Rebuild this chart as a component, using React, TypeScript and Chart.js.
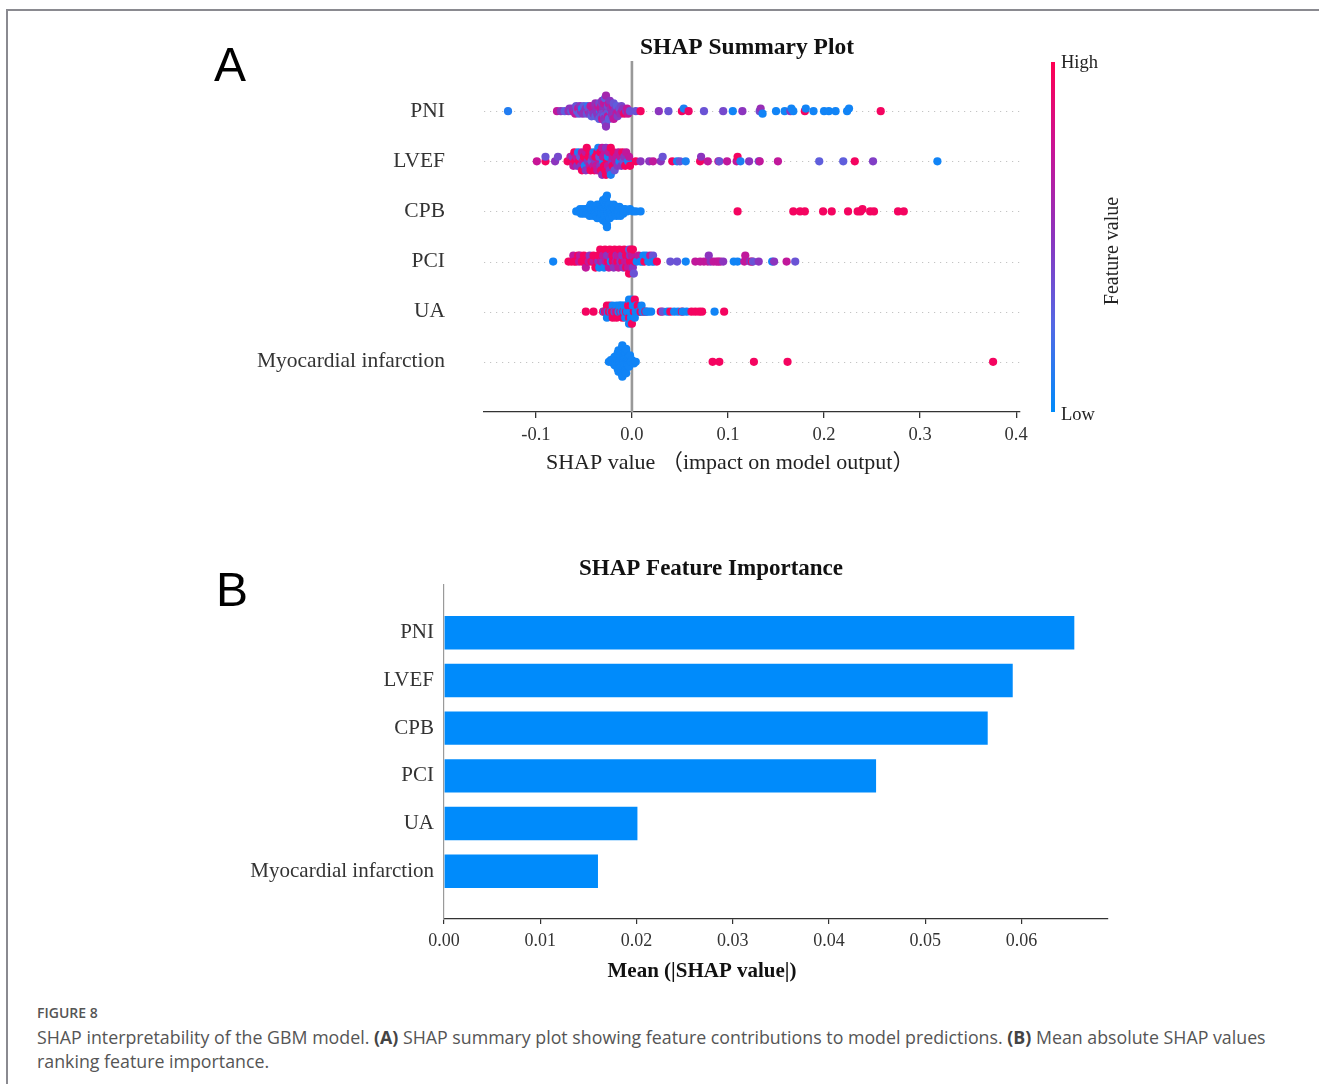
import React, { useEffect, useRef } from "react";
import { Chart, registerables } from "chart.js";

Chart.register(...registerables);

// Feature rows, top to bottom
const FEATURES = ["PNI", "LVEF", "CPB", "PCI", "UA", "Myocardial infarction"];

// Axis ticks
const SUMMARY_X_TICKS = [-0.1, 0, 0.1, 0.2, 0.3, 0.4];
const IMPORTANCE_X_TICKS = [0, 0.01, 0.02, 0.03, 0.04, 0.05, 0.06];

// Mean |SHAP| per feature (same order as FEATURES)
const MEAN_ABS_SHAP = [0.0655, 0.0591, 0.0565, 0.0449, 0.0201, 0.016];

// Per-sample points: [SHAP value, normalised feature value (0 = low, 1 = high)]
const PNI_POINTS: [number, number][] = [
  [-0.129, 0.1],
  [-0.078, 0.72], [-0.074, 0.5], [-0.07, 0.3], [-0.066, 0.55], [-0.065, 0.5], [-0.063, 0.3], [-0.062, 0.5],
  [-0.061, 0.72], [-0.06, 0.5], [-0.059, 0.72], [-0.058, 0.35], [-0.057, 0.3], [-0.056, 0.72], [-0.055, 0.3],
  [-0.054, 0.5], [-0.053, 0.55], [-0.052, 0.1], [-0.051, 0.5], [-0.05, 0.3], [-0.049, 0.55], [-0.048, 0.5],
  [-0.047, 0.35], [-0.046, 0.15], [-0.045, 0.72], [-0.045, 0.35], [-0.044, 0.5], [-0.043, 0.72], [-0.042, 0.3],
  [-0.041, 0.35], [-0.041, 0.72], [-0.04, 0.5], [-0.039, 0.65], [-0.038, 0.3], [-0.038, 0.55], [-0.037, 0.5],
  [-0.036, 0.55], [-0.036, 0.5], [-0.035, 0.72], [-0.035, 0.5], [-0.034, 0.4], [-0.034, 0.3], [-0.033, 0.15],
  [-0.033, 0.72], [-0.032, 0.5], [-0.032, 0.72], [-0.032, 0.35], [-0.031, 0.45], [-0.031, 0.75], [-0.031, 0.5],
  [-0.03, 0.35], [-0.03, 0.55], [-0.03, 0.4], [-0.029, 0.5], [-0.029, 0.3], [-0.029, 0.72], [-0.029, 0.55],
  [-0.028, 0.7], [-0.028, 0.5], [-0.028, 0.3], [-0.027, 0.35], [-0.027, 0.6], [-0.027, 0.5], [-0.026, 0.92],
  [-0.026, 0.5], [-0.026, 0.35], [-0.025, 0.4], [-0.025, 0.72], [-0.024, 0.72], [-0.024, 0.3], [-0.023, 0.5],
  [-0.022, 0.2], [-0.022, 0.55], [-0.021, 0.55], [-0.02, 0.75], [-0.02, 0.5], [-0.019, 0.35], [-0.019, 0.72],
  [-0.018, 0.5], [-0.017, 0.5], [-0.016, 0.7], [-0.016, 0.3], [-0.015, 0.45], [-0.014, 0.7], [-0.013, 0.35],
  [-0.012, 0.55], [-0.011, 0.4], [-0.01, 0.7], [-0.009, 0.5], [-0.008, 0.92], [-0.006, 0.5], [-0.005, 0.72],
  [-0.004, 0.75], [-0.002, 0.35],
  [0.004, 0.35], [0.009, 0.95], [0.028, 0.5], [0.038, 0.35], [0.052, 0.95], [0.054, 0.08], [0.059, 0.92],
  [0.075, 0.35], [0.095, 0.4], [0.105, 0.05], [0.115, 0.5], [0.133, 0.4], [0.134, 0.55], [0.136, 0.05],
  [0.15, 0.05], [0.159, 0.05], [0.165, 0.5], [0.166, 0.05], [0.168, 0.05], [0.18, 0.95], [0.181, 0.05],
  [0.189, 0.05], [0.2, 0.05], [0.205, 0.05], [0.212, 0.05], [0.224, 0.05], [0.226, 0.05], [0.259, 0.95],
];

const LVEF_POINTS: [number, number][] = [
  [-0.099, 0.75], [-0.09, 0.95], [-0.09, 0.35], [-0.08, 0.5], [-0.077, 0.4],
  [-0.067, 0.95], [-0.064, 0.72], [-0.063, 0.95], [-0.062, 0.5], [-0.061, 0.72], [-0.06, 0.95], [-0.059, 0.95],
  [-0.058, 0.72], [-0.057, 0.5], [-0.056, 0.08], [-0.055, 0.95], [-0.054, 0.35], [-0.053, 0.5], [-0.052, 0.72],
  [-0.052, 0.95], [-0.051, 0.72], [-0.05, 0.95], [-0.049, 0.08], [-0.048, 0.72], [-0.048, 0.5], [-0.047, 0.95],
  [-0.046, 0.5], [-0.045, 0.95], [-0.044, 0.72], [-0.044, 0.95], [-0.043, 0.95], [-0.042, 0.35], [-0.041, 0.5],
  [-0.04, 0.72], [-0.04, 0.08], [-0.039, 0.95], [-0.038, 0.5], [-0.038, 0.95], [-0.037, 0.72], [-0.036, 0.95],
  [-0.036, 0.72], [-0.035, 0.08], [-0.034, 0.72], [-0.034, 0.35], [-0.033, 0.5], [-0.033, 0.95], [-0.032, 0.95],
  [-0.031, 0.72], [-0.031, 0.5], [-0.03, 0.08], [-0.03, 0.72], [-0.029, 0.95], [-0.028, 0.72], [-0.028, 0.95],
  [-0.027, 0.5], [-0.027, 0.95], [-0.026, 0.95], [-0.025, 0.08], [-0.025, 0.72], [-0.024, 0.72], [-0.023, 0.5],
  [-0.022, 0.95], [-0.022, 0.08], [-0.021, 0.5], [-0.02, 0.72], [-0.02, 0.95], [-0.019, 0.95], [-0.018, 0.35],
  [-0.017, 0.72], [-0.016, 0.72], [-0.015, 0.5], [-0.014, 0.72], [-0.013, 0.08], [-0.012, 0.72], [-0.011, 0.5],
  [-0.01, 0.95], [-0.009, 0.35], [-0.008, 0.5], [-0.007, 0.95], [-0.006, 0.72], [-0.004, 0.08], [-0.003, 0.72],
  [-0.002, 0.95],
  [0.004, 0.95], [0.009, 0.5], [0.018, 0.5], [0.022, 0.72], [0.03, 0.5], [0.032, 0.35], [0.042, 0.95],
  [0.047, 0.08], [0.05, 0.35], [0.056, 0.08], [0.071, 0.95], [0.072, 0.5], [0.079, 0.72], [0.09, 0.72],
  [0.091, 0.35], [0.099, 0.72], [0.109, 0.72], [0.11, 0.95], [0.113, 0.08], [0.122, 0.5], [0.132, 0.35],
  [0.133, 0.72], [0.152, 0.72], [0.195, 0.3], [0.22, 0.3], [0.232, 0.95], [0.251, 0.45], [0.318, 0.05],
];

const CPB_POINTS: [number, number][] = [
  [-0.058, 0.05], [-0.056, 0.05], [-0.054, 0.05], [-0.053, 0.05], [-0.052, 0.05], [-0.051, 0.05], [-0.05, 0.05],
  [-0.049, 0.05], [-0.048, 0.05], [-0.047, 0.05], [-0.046, 0.05], [-0.046, 0.05], [-0.045, 0.05], [-0.044, 0.05],
  [-0.044, 0.05], [-0.043, 0.05], [-0.042, 0.05], [-0.042, 0.05], [-0.041, 0.05], [-0.04, 0.05], [-0.04, 0.05],
  [-0.039, 0.05], [-0.038, 0.05], [-0.038, 0.05], [-0.037, 0.05], [-0.037, 0.05], [-0.036, 0.05], [-0.036, 0.05],
  [-0.035, 0.05], [-0.035, 0.05], [-0.034, 0.05], [-0.034, 0.05], [-0.033, 0.05], [-0.033, 0.05], [-0.033, 0.05],
  [-0.032, 0.05], [-0.032, 0.05], [-0.032, 0.05], [-0.031, 0.05], [-0.031, 0.05], [-0.031, 0.05], [-0.03, 0.05],
  [-0.03, 0.05], [-0.03, 0.05], [-0.03, 0.05], [-0.029, 0.05], [-0.029, 0.05], [-0.029, 0.05], [-0.029, 0.05],
  [-0.028, 0.05], [-0.028, 0.05], [-0.028, 0.05], [-0.028, 0.05], [-0.027, 0.05], [-0.027, 0.05], [-0.027, 0.05],
  [-0.027, 0.05], [-0.026, 0.05], [-0.026, 0.05], [-0.026, 0.05], [-0.025, 0.05], [-0.025, 0.05], [-0.025, 0.05],
  [-0.024, 0.05], [-0.024, 0.05], [-0.023, 0.05], [-0.023, 0.05], [-0.022, 0.05], [-0.022, 0.05], [-0.021, 0.05],
  [-0.02, 0.05], [-0.02, 0.05], [-0.019, 0.05], [-0.018, 0.05], [-0.018, 0.05], [-0.017, 0.05], [-0.016, 0.05],
  [-0.016, 0.05], [-0.015, 0.05], [-0.014, 0.05], [-0.014, 0.05], [-0.013, 0.05], [-0.012, 0.05], [-0.011, 0.05],
  [-0.01, 0.05], [-0.009, 0.05], [-0.008, 0.05], [-0.007, 0.05], [-0.005, 0.05], [-0.002, 0.05], [0.001, 0.05],
  [0.004, 0.05], [0.009, 0.05],
  [0.11, 0.95], [0.168, 0.95], [0.175, 0.95], [0.18, 0.95], [0.199, 0.95], [0.208, 0.95], [0.225, 0.95],
  [0.235, 0.95], [0.238, 0.95], [0.24, 0.95], [0.248, 0.95], [0.252, 0.95], [0.277, 0.95], [0.283, 0.95],
];

const PCI_POINTS: [number, number][] = [
  [-0.082, 0.05],
  [-0.066, 0.95], [-0.063, 0.95], [-0.061, 0.72], [-0.06, 0.95], [-0.058, 0.95], [-0.056, 0.95], [-0.055, 0.72],
  [-0.054, 0.72], [-0.052, 0.95], [-0.05, 0.95], [-0.05, 0.95], [-0.048, 0.72], [-0.046, 0.95], [-0.045, 0.72],
  [-0.044, 0.5], [-0.042, 0.95], [-0.04, 0.72], [-0.04, 0.95], [-0.038, 0.95], [-0.036, 0.95], [-0.035, 0.5],
  [-0.035, 0.95], [-0.034, 0.05], [-0.033, 0.95], [-0.032, 0.72], [-0.031, 0.95], [-0.03, 0.5], [-0.03, 0.72],
  [-0.029, 0.05], [-0.028, 0.95], [-0.027, 0.72], [-0.026, 0.5], [-0.025, 0.95], [-0.025, 0.5], [-0.024, 0.72],
  [-0.023, 0.95], [-0.022, 0.05], [-0.021, 0.72], [-0.02, 0.95], [-0.02, 0.95], [-0.019, 0.5], [-0.018, 0.95],
  [-0.017, 0.72], [-0.016, 0.5], [-0.015, 0.95], [-0.015, 0.72], [-0.014, 0.72], [-0.013, 0.95], [-0.012, 0.5],
  [-0.011, 0.72], [-0.01, 0.95], [-0.01, 0.5], [-0.009, 0.5], [-0.008, 0.95], [-0.007, 0.72], [-0.006, 0.95],
  [-0.006, 0.95], [-0.005, 0.72], [-0.004, 0.95], [-0.004, 0.72], [-0.003, 0.35], [-0.003, 0.95], [-0.002, 0.95],
  [-0.002, 0.5], [-0.001, 0.72], [-0.001, 0.95], [0.0, 0.95], [0.0, 0.72], [0.001, 0.5], [0.001, 0.95],
  [0.002, 0.35], [0.003, 0.95], [0.005, 0.05], [0.007, 0.72], [0.009, 0.05], [0.011, 0.05], [0.012, 0.05],
  [0.013, 0.95], [0.015, 0.05], [0.017, 0.05], [0.018, 0.05], [0.019, 0.72], [0.021, 0.05], [0.022, 0.35],
  [0.023, 0.05], [0.026, 0.95],
  [0.04, 0.35], [0.047, 0.35], [0.056, 0.05], [0.066, 0.72], [0.071, 0.72], [0.075, 0.72], [0.079, 0.72],
  [0.08, 0.5], [0.082, 0.5], [0.085, 0.72], [0.088, 0.72], [0.09, 0.72], [0.092, 0.72], [0.095, 0.5],
  [0.106, 0.05], [0.11, 0.05], [0.117, 0.72], [0.118, 0.72], [0.123, 0.5], [0.125, 0.95], [0.126, 0.35],
  [0.132, 0.5], [0.146, 0.05], [0.148, 0.5], [0.161, 0.72], [0.17, 0.35],
];

const UA_POINTS: [number, number][] = [
  [-0.048, 0.95], [-0.04, 0.95],
  [-0.03, 0.95], [-0.029, 0.05], [-0.028, 0.95], [-0.027, 0.72], [-0.026, 0.95], [-0.026, 0.05], [-0.025, 0.05],
  [-0.024, 0.95], [-0.023, 0.95], [-0.022, 0.05], [-0.021, 0.95], [-0.02, 0.05], [-0.02, 0.95], [-0.019, 0.95],
  [-0.018, 0.05], [-0.017, 0.72], [-0.016, 0.05], [-0.016, 0.95], [-0.015, 0.95], [-0.014, 0.05], [-0.013, 0.05],
  [-0.012, 0.95], [-0.012, 0.05], [-0.011, 0.05], [-0.01, 0.05], [-0.01, 0.95], [-0.009, 0.95], [-0.008, 0.05],
  [-0.008, 0.05], [-0.007, 0.05], [-0.006, 0.95], [-0.006, 0.05], [-0.005, 0.05], [-0.005, 0.05], [-0.004, 0.05],
  [-0.004, 0.95], [-0.003, 0.95], [-0.003, 0.05], [-0.003, 0.05], [-0.002, 0.05], [-0.002, 0.95], [-0.001, 0.05],
  [-0.001, 0.95], [-0.001, 0.05], [0.0, 0.05], [0.0, 0.95], [0.001, 0.05], [0.001, 0.05], [0.002, 0.95],
  [0.002, 0.05], [0.003, 0.05], [0.003, 0.95], [0.004, 0.05], [0.004, 0.05], [0.005, 0.05], [0.006, 0.95],
  [0.007, 0.05], [0.008, 0.05], [0.009, 0.95], [0.01, 0.05], [0.011, 0.05], [0.012, 0.05], [0.014, 0.95],
  [0.015, 0.05], [0.017, 0.05], [0.02, 0.05],
  [0.03, 0.95], [0.032, 0.35], [0.037, 0.05], [0.04, 0.95], [0.044, 0.05], [0.048, 0.05], [0.052, 0.95],
  [0.053, 0.05], [0.057, 0.05], [0.062, 0.95], [0.066, 0.95], [0.07, 0.95], [0.073, 0.95], [0.086, 0.05],
  [0.096, 0.95],
];

const MI_POINTS: [number, number][] = [
  [-0.024, 0.05], [-0.022, 0.05], [-0.021, 0.05], [-0.02, 0.05], [-0.019, 0.05], [-0.019, 0.05], [-0.018, 0.05],
  [-0.018, 0.05], [-0.017, 0.05], [-0.017, 0.05], [-0.017, 0.05], [-0.016, 0.05], [-0.016, 0.05], [-0.016, 0.05],
  [-0.015, 0.05], [-0.015, 0.05], [-0.015, 0.05], [-0.015, 0.05], [-0.014, 0.05], [-0.014, 0.05], [-0.014, 0.05],
  [-0.014, 0.05], [-0.013, 0.05], [-0.013, 0.05], [-0.013, 0.05], [-0.013, 0.05], [-0.013, 0.05], [-0.012, 0.05],
  [-0.012, 0.05], [-0.012, 0.05], [-0.012, 0.05], [-0.012, 0.05], [-0.011, 0.05], [-0.011, 0.05], [-0.011, 0.05],
  [-0.011, 0.05], [-0.011, 0.05], [-0.01, 0.05], [-0.01, 0.05], [-0.01, 0.05], [-0.01, 0.05], [-0.01, 0.05],
  [-0.009, 0.05], [-0.009, 0.05], [-0.009, 0.05], [-0.009, 0.05], [-0.009, 0.05], [-0.008, 0.05], [-0.008, 0.05],
  [-0.008, 0.05], [-0.008, 0.05], [-0.007, 0.05], [-0.007, 0.05], [-0.007, 0.05], [-0.007, 0.05], [-0.006, 0.05],
  [-0.006, 0.05], [-0.006, 0.05], [-0.005, 0.05], [-0.005, 0.05], [-0.005, 0.05], [-0.004, 0.05], [-0.004, 0.05],
  [-0.003, 0.05], [-0.003, 0.05], [-0.002, 0.05], [-0.001, 0.05], [0.0, 0.05], [0.002, 0.05], [0.004, 0.05],
  [0.084, 0.95], [0.091, 0.95], [0.127, 0.95], [0.162, 0.95], [0.376, 0.95],
];

const ROW_POINTS = [PNI_POINTS, LVEF_POINTS, CPB_POINTS, PCI_POINTS, UA_POINTS, MI_POINTS];

// Blue -> purple -> red feature colour ramp
const RAMP: [number, number, number, number][] = [
  [0, 0, 139, 250],
  [0.25, 84, 104, 228],
  [0.5, 140, 52, 190],
  [0.75, 200, 20, 150],
  [1, 255, 0, 82],
];

function featureColor(t: number): string {
  for (let i = 1; i < RAMP.length; i++) {
    if (t <= RAMP[i][0]) {
      const a = RAMP[i - 1];
      const b = RAMP[i];
      const f = (t - a[0]) / (b[0] - a[0]);
      const c = [1, 2, 3].map((k) => Math.round(a[k] + (b[k] - a[k]) * f));
      return `rgb(${c[0]},${c[1]},${c[2]})`;
    }
  }
  const l = RAMP[RAMP.length - 1];
  return `rgb(${l[1]},${l[2]},${l[3]})`;
}

// Beeswarm offsets in the style of the shap summary plot: values are binned
// and stacked alternately above/below the row, scaled to fit the row height.
function beeswarmOffsets(xs: number[], rowHeight = 0.4): number[] {
  const nbins = 100;
  const lo = Math.min(...xs);
  const hi = Math.max(...xs);
  const quant = xs.map((v) => Math.round((nbins * (v - lo)) / (hi - lo + 1e-8)));
  const order = xs.map((_, i) => i).sort((a, b) => quant[a] - quant[b] || a - b);
  const ys = new Array(xs.length).fill(0);
  let layer = 0;
  let last = -1;
  for (const i of order) {
    if (quant[i] !== last) layer = 0;
    ys[i] = Math.ceil(layer / 2) * ((layer % 2) * 2 - 1);
    layer++;
    last = quant[i];
  }
  const maxY = Math.max(...ys.map((y) => y + 1));
  return ys.map((y) => y * 0.9 * (rowHeight / maxY));
}

const SERIF = "'Liberation Serif', 'Times New Roman', serif";
const AXIS_COLOR = "#333333";

const summaryDecor = {
  id: "summaryDecor",
  beforeDatasetsDraw(chart: any) {
    const { ctx, chartArea, scales } = chart;
    ctx.save();
    ctx.strokeStyle = "#c4c4c4";
    ctx.lineWidth = 1.2;
    ctx.setLineDash([1.2, 4.8]);
    FEATURES.forEach((_, i) => {
      const py = Math.round(scales.y.getPixelForValue(i)) + 0.5;
      ctx.beginPath();
      ctx.moveTo(chartArea.left, py);
      ctx.lineTo(chartArea.right, py);
      ctx.stroke();
    });
    ctx.setLineDash([]);
    const zx = scales.x.getPixelForValue(0);
    ctx.strokeStyle = "#999999";
    ctx.lineWidth = 2.6;
    ctx.beginPath();
    ctx.moveTo(zx, chartArea.top);
    ctx.lineTo(zx, chartArea.bottom);
    ctx.stroke();
    ctx.restore();
  },
  afterDraw(chart: any) {
    const { ctx, chartArea } = chart;
    ctx.save();
    // title
    ctx.fillStyle = "#111";
    ctx.font = `bold 23.5px ${SERIF}`;
    ctx.textAlign = "center";
    ctx.textBaseline = "alphabetic";
    ctx.fillText("SHAP Summary Plot", (chartArea.left + chartArea.right) / 2 - 5, chartArea.top - 7);
    // x axis title
    ctx.fillStyle = "#222";
    ctx.font = `22px ${SERIF}, 'Noto Sans CJK SC'`;
    ctx.textAlign = "left";
    ctx.fillText("SHAP value （impact on model output）", chartArea.left + 62, chartArea.bottom + 57);
    // colour bar
    const bx = chartArea.right + 31;
    const top = chartArea.top + 1;
    const bottom = chartArea.bottom;
    const grad = ctx.createLinearGradient(0, bottom, 0, top);
    RAMP.forEach((s) => grad.addColorStop(s[0], `rgb(${s[1]},${s[2]},${s[3]})`));
    ctx.fillStyle = grad;
    ctx.fillRect(bx, top, 4, bottom - top);
    ctx.fillStyle = "#222";
    ctx.font = `18.5px ${SERIF}`;
    ctx.textBaseline = "middle";
    ctx.fillText("High", bx + 10, top + 1);
    ctx.fillText("Low", bx + 10, bottom + 3);
    ctx.font = `20px ${SERIF}`;
    ctx.translate(bx + 62, (top + bottom) / 2 + 14);
    ctx.rotate(-Math.PI / 2);
    ctx.textAlign = "center";
    ctx.fillText("Feature value", 0, 0);
    ctx.restore();
  },
};

const importanceDecor = {
  id: "importanceDecor",
  afterDraw(chart: any) {
    const { ctx, chartArea } = chart;
    ctx.save();
    ctx.fillStyle = "#111";
    ctx.font = `bold 23px ${SERIF}`;
    ctx.textAlign = "center";
    ctx.textBaseline = "alphabetic";
    ctx.fillText("SHAP Feature Importance", chartArea.left + 267, chartArea.top - 10);
    ctx.font = `bold 21px ${SERIF}`;
    ctx.fillText("Mean (|SHAP value|)", chartArea.left + 258, chartArea.bottom + 58);
    ctx.restore();
  },
};

function SummaryPlot() {
  const ref = useRef<HTMLCanvasElement>(null);
  useEffect(() => {
    if (!ref.current) return;
    const datasets = ROW_POINTS.map((pts, row) => {
      const offs = beeswarmOffsets(pts.map((p) => p[0]));
      return {
        data: pts.map((p, k) => ({ x: p[0], y: row - offs[k] })),
        pointBackgroundColor: pts.map((p) => featureColor(p[1])),
        pointRadius: 4.1,
        pointBorderWidth: 0,
        pointHoverRadius: 4.1,
      };
    });
    const chart = new Chart(ref.current, {
      type: "scatter",
      data: { datasets },
      options: {
        animation: false,
        responsive: false,
        events: [],
        layout: { padding: { top: 61, right: 299, left: 0, bottom: 0 } },
        plugins: { legend: { display: false }, tooltip: { enabled: false } },
        scales: {
          x: {
            type: "linear",
            min: -0.154,
            max: 0.404,
            afterBuildTicks: (s: any) => {
              s.ticks = SUMMARY_X_TICKS.map((v) => ({ value: v }));
            },
            afterFit: (s: any) => {
              s.height = 88;
            },
            grid: { display: true, drawOnChartArea: false, drawTicks: true, tickLength: 6, color: AXIS_COLOR, lineWidth: 1.3 },
            border: { display: true, color: AXIS_COLOR, width: 1.3 },
            ticks: {
              autoSkip: false,
              maxRotation: 0,
              padding: 6,
              color: AXIS_COLOR,
              font: { family: SERIF, size: 18.5 },
              callback: (v: any) => Number(v).toFixed(1),
            },
          },
          y: {
            type: "linear",
            min: -1,
            max: 6,
            reverse: true,
            afterBuildTicks: (s: any) => {
              s.ticks = FEATURES.map((_, i) => ({ value: i }));
            },
            afterFit: (s: any) => {
              s.width = 484;
            },
            grid: { display: false, drawTicks: false },
            border: { display: false },
            ticks: {
              autoSkip: false,
              padding: 39,
              color: AXIS_COLOR,
              font: { family: SERIF, size: 21.5 },
              callback: (v: any) => FEATURES[v as number] ?? "",
            },
          },
        },
      },
      plugins: [summaryDecor],
    } as any);
    return () => chart.destroy();
  }, []);
  return <canvas ref={ref} width={1319} height={500} style={{ position: "absolute", left: 0, top: 0, display: "block" }} />;
}

function ImportancePlot() {
  const ref = useRef<HTMLCanvasElement>(null);
  useEffect(() => {
    if (!ref.current) return;
    const chart = new Chart(ref.current, {
      type: "bar",
      data: {
        datasets: [
          {
            data: MEAN_ABS_SHAP.map((v, i) => ({ x: v, y: i })),
            backgroundColor: "#008bfb",
            borderWidth: 0,
            categoryPercentage: 1,
            barPercentage: 0.7,
          },
        ],
      },
      options: {
        indexAxis: "y",
        animation: false,
        responsive: false,
        events: [],
        layout: { padding: { top: 85, right: 211, left: 0, bottom: 0 } },
        plugins: { legend: { display: false }, tooltip: { enabled: false } },
        scales: {
          x: {
            type: "linear",
            min: 0,
            max: 0.069,
            afterBuildTicks: (s: any) => {
              s.ticks = IMPORTANCE_X_TICKS.map((v) => ({ value: v }));
            },
            afterFit: (s: any) => {
              s.height = 81;
            },
            grid: { display: true, drawOnChartArea: false, drawTicks: true, tickLength: 5, color: AXIS_COLOR, lineWidth: 1.2 },
            border: { display: true, color: AXIS_COLOR, width: 1.2 },
            ticks: {
              autoSkip: false,
              maxRotation: 0,
              padding: 6,
              color: AXIS_COLOR,
              font: { family: SERIF, size: 18 },
              callback: (v: any) => Number(v).toFixed(2),
            },
          },
          y: {
            type: "linear",
            min: -1,
            max: 6,
            reverse: true,
            offset: false,
            afterBuildTicks: (s: any) => {
              s.ticks = FEATURES.map((_, i) => ({ value: i }));
            },
            afterFit: (s: any) => {
              s.width = 444;
            },
            grid: { display: false, drawTicks: false, offset: false },
            border: { display: true, color: "#9a9a9a", width: 1.2 },
            ticks: {
              autoSkip: false,
              padding: 10,
              color: AXIS_COLOR,
              font: { family: SERIF, size: 21 },
              callback: (v: any) => FEATURES[v as number] ?? "",
            },
          },
        },
      },
      plugins: [importanceDecor],
    } as any);
    return () => chart.destroy();
  }, []);
  return <canvas ref={ref} width={1319} height={500} style={{ position: "absolute", left: 0, top: 500, display: "block" }} />;
}

export default function App() {
  const letter: React.CSSProperties = {
    position: "absolute",
    font: "48px 'Liberation Sans', Arial, sans-serif",
    lineHeight: 1,
    color: "#000",
  };
  const bold: React.CSSProperties = { fontWeight: 700, color: "#444" };
  return (
    <div style={{ position: "absolute", left: 0, top: 0, width: 1319, height: 1084, background: "#fff", overflow: "hidden" }}>
      <div
        style={{
          position: "absolute",
          left: 6,
          top: 9,
          right: 0,
          bottom: 0,
          borderTop: "2px solid #8a8a90",
          borderLeft: "2px solid #8a8a90",
        }}
      />
      <SummaryPlot />
      <ImportancePlot />
      <div style={{ ...letter, left: 214, top: 41 }}>A</div>
      <div style={{ ...letter, left: 216, top: 566 }}>B</div>
      <div
        style={{
          position: "absolute",
          left: 37,
          top: 1003,
          font: "600 14px 'Open Sans', sans-serif",
          lineHeight: "20px",
          color: "#555",
        }}
      >
        FIGURE 8
      </div>
      <div
        style={{
          position: "absolute",
          left: 37,
          top: 1025,
          font: "17.8px 'Open Sans', sans-serif",
          lineHeight: "24px",
          color: "#555",
          whiteSpace: "nowrap",
        }}
      >
        SHAP interpretability of the GBM model. <b style={bold}>(A)</b> SHAP summary plot showing feature contributions to
        model predictions. <b style={bold}>(B)</b> Mean absolute SHAP values
        <br />
        ranking feature importance.
      </div>
    </div>
  );
}
